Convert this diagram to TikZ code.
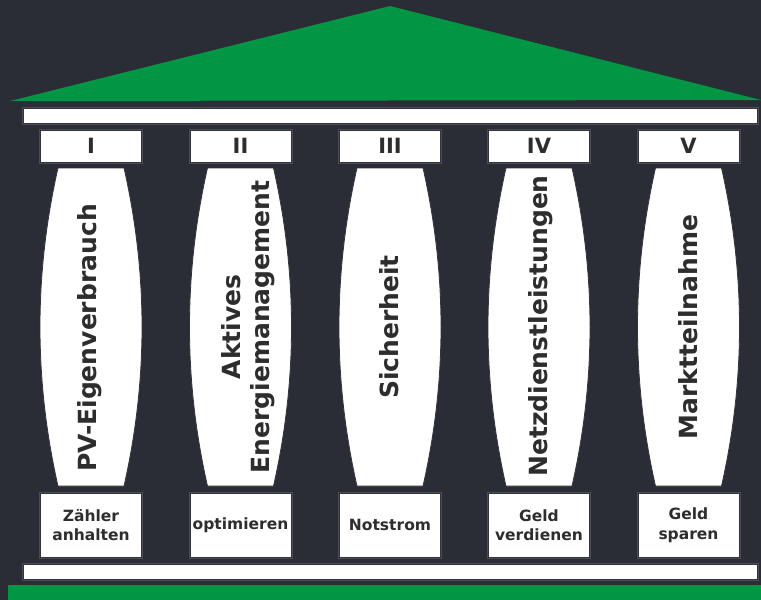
\documentclass[tikz,border=0pt]{standalone}
\usepackage{fontspec}
\setmainfont{DejaVu Sans}
\definecolor{bgc}{RGB}{42,45,53}
\definecolor{roofc}{RGB}{0,150,68}
\definecolor{txtc}{RGB}{45,45,45}
\definecolor{edgec}{RGB}{50,52,58}
\definecolor{haloc}{RGB}{100,103,110}
\begin{document}
\begin{tikzpicture}[x=1pt,y=-1pt,
  whitebox/.style={fill=white, draw=edgec, line width=0.8pt,
    preaction={draw=haloc, line width=3pt, opacity=0.55}},
  numbox/.style={whitebox, minimum width=101pt, minimum height=32pt, inner sep=0pt,
    font=\bfseries\fontsize{21}{21}\selectfont, text=txtc},
  basebox/.style={whitebox, minimum width=101pt, minimum height=64pt, inner sep=0pt,
    align=center, font=\bfseries\fontsize{15.5}{19.5}\selectfont, text=txtc},
  coltext/.style={rotate=90, align=center, inner sep=0pt,
    font=\bfseries\fontsize{25}{29}\selectfont, text=txtc},
  column/.style={fill=white, draw=edgec, line width=0.8pt},
]
\fill[bgc] (0,0) rectangle (761,600);
\useasboundingbox (0,0) rectangle (761,600);
% roof
\coordinate (roofL) at (10,101);
\coordinate (roofT) at (390,6);
\coordinate (roofR) at (761,100);
\fill[roofc] (roofL) -- (roofT) -- (roofR) -- cycle;
% top beam
\draw[whitebox] (23,108) rectangle (757,123);
% bottom beam
\draw[whitebox] (23,564) rectangle (757,579);
% green base
\fill[roofc] (8,585) rectangle (761,600);
% pillars
\foreach \cx/\tx/\ty/\num/\lab/\bot [count=\i] in {
  91/90/338/I/{PV-Eigenverbrauch}/{Zähler\\anhalten},
  240.5/248/327/II/{Aktives\\Energiemanagement}/{optimieren},
  390/389/327/III/{Sicherheit}/{Notstrom},
  539/541/326/IV/{Netzdienstleistungen}/{Geld\\verdienen},
  688.5/688/327/V/{Marktteilnahme}/{Geld\\sparen}} {
  \node[numbox] (num\i) at (\cx,146) {\num};
  \draw[column] (\cx-33,168) -- (\cx+33,168)
    .. controls (\cx+57,274) and (\cx+57,380) .. (\cx+33,486)
    -- (\cx-33,486)
    .. controls (\cx-57,380) and (\cx-57,274) .. (\cx-33,168) -- cycle;
  \node[coltext] (col\i) at (\tx,\ty) {\lab};
  \node[basebox] (bot\i) at (\cx,525) {\bot};
}
\end{tikzpicture}
\end{document}
